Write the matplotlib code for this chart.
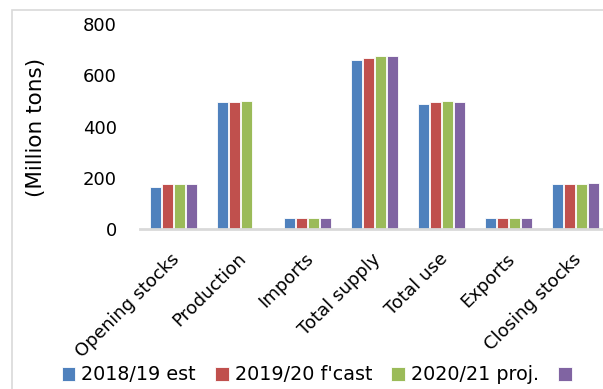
import numpy as np
import matplotlib
matplotlib.use("Agg")
import matplotlib.pyplot as plt
import matplotlib.transforms as mtransforms
from matplotlib.patches import Rectangle

categories = ['Opening stocks', 'Production', 'Imports', 'Total supply',
              'Total use', 'Exports', 'Closing stocks']
series_names = ['2018/19 est', "2019/20 f'cast", '2020/21 proj.', ' ']
est_2018 = [164, 496, 41, 660, 486, 41, 174]
fcast_2019 = [174, 495, 41, 669, 494, 41, 174]
proj_2020 = [175, 501, 44, 677, 500, 44, 177]
latest = [175, np.nan, 44, 677, 497, 44, 178]
colors = ['#4F81BD', '#C0504D', '#9BBB59', '#8064A2']

plt.rcParams['font.family'] = ['DejaVu Sans']

fig = plt.figure(figsize=(6.03, 3.89), dpi=100)
# outer chart border, only left and top edges fall inside the picture
fig.patches.append(Rectangle((12 / 603, -0.5), 2, 1 - 10 / 389 + 0.5,
                             transform=fig.transFigure, fill=False,
                             edgecolor='#d9d9d9', linewidth=1.2))

ax = fig.add_axes([140 / 603, 1 - 229 / 389, 469 / 603, 205 / 389])
x = np.arange(len(categories))
width = 0.17
data = [est_2018, fcast_2019, proj_2020, latest]
for i, vals in enumerate(data):
    offs = (i - 1.5) * (width + 0.01)
    ax.bar(x + offs, vals, width, color=colors[i], label=series_names[i],
           edgecolor='white', linewidth=0.6)

ax.set_xlim(-0.5, len(categories) - 0.5)
ax.set_ylim(0, 800)
ax.set_yticks([0, 200, 400, 600, 800])
for s in ['top', 'right', 'left']:
    ax.spines[s].set_visible(False)
ax.spines['bottom'].set_color('#d9d9d9')
ax.spines['bottom'].set_linewidth(2)
ax.tick_params(axis='y', length=0, pad=16.5, labelsize=13)
ax.tick_params(axis='x', length=0, pad=15)
ax.set_xticks(x)
ax.set_xticklabels(categories, rotation=45, ha='right', rotation_mode='anchor',
                   fontsize=13)
shift = mtransforms.ScaledTranslation(-3 / 100, 0, fig.dpi_scale_trans)
for lab in ax.get_xticklabels():
    lab.set_transform(lab.get_transform() + shift)

fig.text(36 / 603, 1 - 127 / 389, '(Million tons)', rotation=90,
         ha='center', va='center', fontsize=15.5)

handles, labels = ax.get_legend_handles_labels()
fig.legend(handles, labels, loc='center left', bbox_to_anchor=(54 / 603, 1 - 375 / 389),
           ncol=4, frameon=False, fontsize=13.8, handlelength=0.72, handleheight=0.72,
           handletextpad=0.3, columnspacing=1.0, borderaxespad=0)

fig.savefig('out.png', dpi=100)
